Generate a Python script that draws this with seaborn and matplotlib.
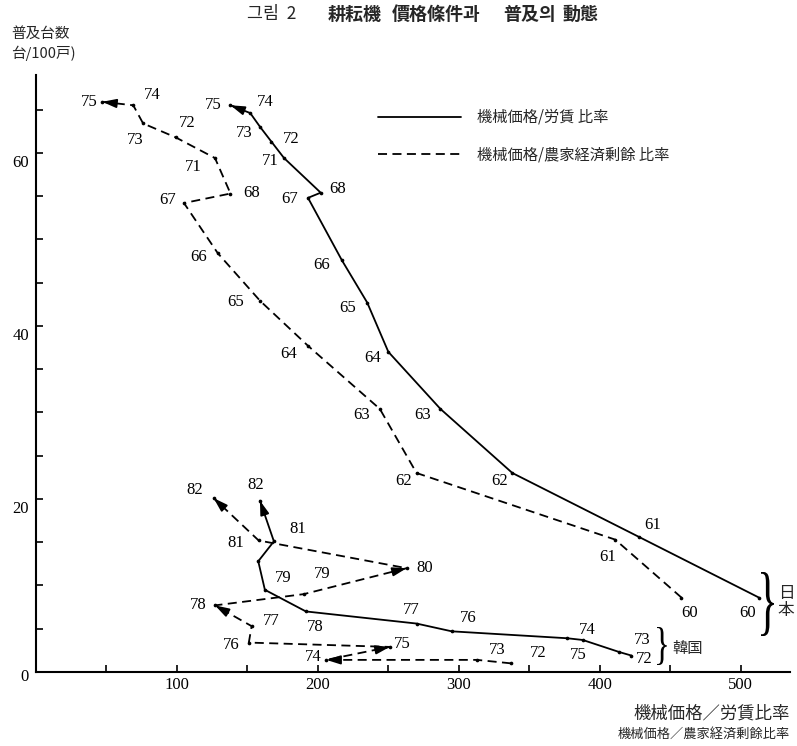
import numpy as np
import pandas as pd
import matplotlib
matplotlib.use("Agg")
import matplotlib.pyplot as plt
import seaborn as sns
from matplotlib.lines import Line2D
from matplotlib.textpath import TextPath
from matplotlib.patches import PathPatch
from matplotlib.font_manager import FontProperties
import matplotlib.transforms as mtransforms

# ---------------- data ----------------
jp_years = [60, 61, 62, 63, 64, 65, 66, 67, 68, 71, 72, 73, 74, 75]
jp_wage_x = [513, 428, 338, 287, 250, 235, 217, 193, 202, 176, 167, 159, 152, 138]
jp_wage_y = [8.6, 15.6, 23.0, 30.4, 37.0, 42.7, 47.6, 54.8, 55.4, 59.4, 61.3, 63.0, 64.6, 65.5]
jp_surplus_x = [458, 411, 270, 244, 193, 159, 129, 105, 138, 127, 99, 76, 69, 47]
jp_surplus_y = [8.6, 15.3, 23.0, 30.4, 37.7, 42.9, 48.4, 54.2, 55.3, 59.4, 61.8, 63.4, 65.5, 65.9]

kr_years = [72, 73, 74, 75, 76, 77, 78, 79, 80, 81, 82]
kr_wage_x = [422.5, 414, 388, 377, 295, 270, 191.5, 162.4, 157.7, 168.8, 158.9]
kr_wage_y = [1.9, 2.3, 3.7, 3.9, 4.7, 5.6, 7.0, 9.5, 12.8, 15.1, 19.8]
kr_surplus_x = [337, 313, 206, 251, 151, 153, 127, 190, 263, 158, 126]
kr_surplus_y = [1.0, 1.4, 1.4, 2.9, 3.4, 5.3, 7.7, 9.0, 12.0, 15.2, 20.1]

x_ticks = [100, 200, 300, 400, 500]
y_ticks = [0, 20, 40, 60]

legend_labels = ["機械価格/労賃 比率", "機械価格/農家経済剰餘 比率"]
title_left = "그림  2"
title_words = ["耕耘機", "價格條件과", "普及의", "動態"]
ylabel_lines = ["普及台数", "台/100戸)"]
xlabel_lines = ["機械価格／労賃比率", "機械価格／農家経済剰餘比率"]

# ---------------- styling / layout (not data) ----------------
jp_wage_off = [(-11, -15), (13, 12), (-13, -8), (-18, -6), (-16, -6), (-20, -5), (-20, -5),
               (-18, -1), (17, 4), (-14, -3), (20, 3), (-16, -6), (15, 11), (-17, 0)]
jp_surplus_off = [(8, -15), (-8, -17), (-13, -8), (-18, -6), (-19, -8), (-24, -1), (-19, -4),
                  (-16, 3), (21, 1), (-22, -9), (12, 14), (-8, -17), (19, 10), (-13, 0)]
kr_wage_off = [(13, -3), (23, 12), (4, 10), (11, -17), (16, 13), (-5, 14), (9, -16),
               (18, 12), None, (24, 12), (-4, 16)]
kr_surplus_off = [(27, 10), (20, 10), (-13, 3), (13, 3), (-18, -2), (20, 5), (-17, 0),
                  (18, 20), (18, 0), (-23, -3), (-19, 8)]
jp_wage_arrows = [13]
jp_surplus_arrows = [13]
kr_wage_arrows = [10]
kr_surplus_arrows = [2, 3, 6, 8, 10]

series = [
    ("JP", "wage", jp_years, jp_wage_x, jp_wage_y, jp_wage_off, jp_wage_arrows),
    ("JP", "surplus", jp_years, jp_surplus_x, jp_surplus_y, jp_surplus_off, jp_surplus_arrows),
    ("KR", "wage", kr_years, kr_wage_x, kr_wage_y, kr_wage_off, kr_wage_arrows),
    ("KR", "surplus", kr_years, kr_surplus_x, kr_surplus_y, kr_surplus_off, kr_surplus_arrows),
]

rows = []
for country, ratio, yrs, xs, ys, _, _ in series:
    for i, (yr, x, y) in enumerate(zip(yrs, xs, ys)):
        rows.append(dict(country=country, ratio=ratio, year=yr, x=x, y=y, order=i))
df = pd.DataFrame(rows)
df["unit"] = df["country"] + "_" + df["ratio"]

sns.set_theme(style="white")
plt.rcParams["font.family"] = ["Liberation Serif", "Noto Sans CJK JP", "DejaVu Sans"]
CJK = ["Noto Sans CJK JP", "DejaVu Sans"]
KR = ["Noto Sans CJK KR", "DejaVu Sans"]

W, H = 797, 746
fig = plt.figure(figsize=(W / 100, H / 100), dpi=100)
ax = fig.add_axes([36 / W, 1 - 672 / H, 754 / W, 597 / H])
ax.set_xlim(0, 535)
ax.set_ylim(0, 69)

LW = 1.3
DASH = (5, 3)
sns.lineplot(data=df, x="x", y="y", style="ratio", units="unit", estimator=None, sort=False,
             color="black", dashes={"wage": "", "surplus": DASH}, linewidth=LW,
             legend=False, ax=ax)
sns.scatterplot(data=df, x="x", y="y", color="black", s=7, linewidth=0, legend=False, ax=ax)

for country, ratio, yrs, xs, ys, offs, arrows in series:
    for yr, x, y, off in zip(yrs, xs, ys, offs):
        if off is None:
            continue
        ax.annotate(f"{yr}", xy=(x, y), xytext=off, textcoords="offset pixels",
                    ha="center", va="center", fontsize=12, family="Liberation Serif",
                    color="black")
    for i in arrows:
        p_end = np.array(ax.transData.transform((xs[i], ys[i])))
        p_prev = np.array(ax.transData.transform((xs[i - 1], ys[i - 1])))
        d = p_end - p_prev
        u = d / np.hypot(*d)
        start = ax.transData.inverted().transform(p_end - u * 9)
        ax.annotate("", xy=(xs[i], ys[i]), xytext=start,
                    arrowprops=dict(arrowstyle="-|>,head_length=0.7,head_width=0.22",
                                    color="black", lw=LW, shrinkA=0, shrinkB=0))

sns.despine(ax=ax)
for s in ["left", "bottom"]:
    ax.spines[s].set_color("black")
    ax.spines[s].set_linewidth(1.5)
ax.set_xticks(x_ticks)
ax.set_xticks(np.arange(50, 536, 100), minor=True)
ax.set_yticks(y_ticks)
ax.set_yticks(np.arange(5, 68, 5), minor=True)
ax.tick_params(which="both", direction="in", length=5, width=1.2, color="black",
               labelsize=12, labelcolor="black", bottom=True, left=True)
ax.tick_params(axis="y", pad=5)
for lab in ax.get_xticklabels() + ax.get_yticklabels():
    lab.set_family("Liberation Serif")
for tk, dy in zip(ax.yaxis.get_major_ticks(), [-3, -8, -8, -8]):
    shift = mtransforms.ScaledTranslation(0, dy / 100, fig.dpi_scale_trans)
    tk.label1.set_transform(tk.label1.get_transform() + shift)
ax.set_xlabel("")
ax.set_ylabel("")

handles = [Line2D([], [], color="black", lw=LW),
           Line2D([], [], color="black", lw=LW, dashes=DASH)]
leg = ax.legend(handles, legend_labels, loc="upper left",
                bbox_to_anchor=((378 - 36) / 754, (672 - 109) / 597),
                frameon=False, handlelength=5.4, handletextpad=1.1, labelspacing=1.35,
                borderpad=0, borderaxespad=0, prop=dict(family=CJK, size=11))

fig.text(247 / W, 1 - 14 / H, title_left, family=KR, fontsize=12.5, ha="left", va="center")
for word, px in zip(title_words, [328, 392, 503, 562]):
    fig.text(px / W, 1 - 14 / H, word, family=KR, fontsize=13, fontweight="bold",
             ha="left", va="center")

fig.text(11 / W, 1 - 34 / H, ylabel_lines[0], family=CJK, fontsize=10.5, ha="left", va="center")
fig.text(11 / W, 1 - 53 / H, ylabel_lines[1], family=CJK, fontsize=10.5, ha="left", va="center")
fig.text(790 / W, 1 - 713 / H, xlabel_lines[0], family=CJK, fontsize=12.5, ha="right", va="center")
fig.text(790 / W, 1 - 734 / H, xlabel_lines[1], family=CJK, fontsize=9.5, ha="right", va="center")

def brace(x0, x1, ytop, ybot):
    tp = TextPath((0, 0), "}", size=1, prop=FontProperties(family="Liberation Serif"))
    ext = tp.get_extents()
    tr = (mtransforms.Affine2D()
          .translate(-ext.x0, -ext.y0)
          .scale((x1 - x0) / ext.width, (ybot - ytop) / ext.height)
          .translate(x0, H - ybot))
    patch = PathPatch(tp, transform=tr, facecolor="black", edgecolor="none")
    fig.add_artist(patch)

brace(761, 774, 572, 636)
brace(657, 667, 627, 665)
fig.text(786 / W, 1 - 602 / H, "日\n本", family=CJK, fontsize=12, ha="center", va="center",
         linespacing=1.05)
fig.text(672 / W, 1 - 648 / H, "韓国", family=CJK, fontsize=11, ha="left", va="center")

fig.savefig("out.png", dpi=100)
